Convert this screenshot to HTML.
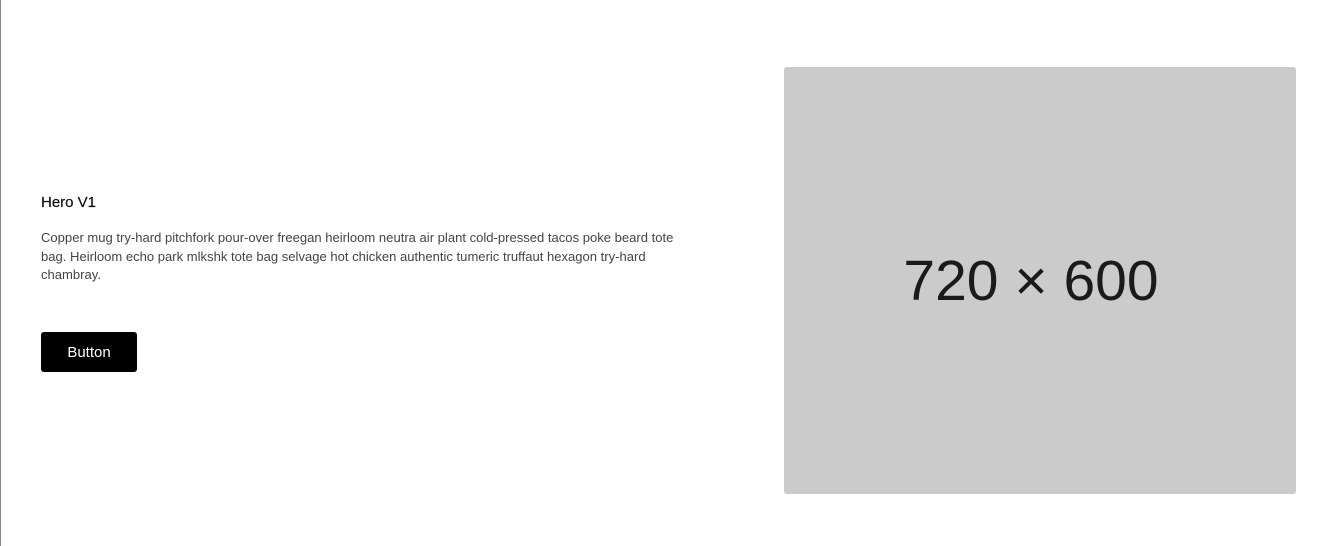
<!DOCTYPE html>
<html><head><meta charset="utf-8"><style>
html,body{margin:0;padding:0;width:1334px;height:546px;background:#fff;overflow:hidden;position:relative;font-family:"Liberation Sans",sans-serif}
.bl{position:absolute;left:0;top:0;width:1px;height:546px;background:#888}
h1{position:absolute;left:41px;top:194px;margin:0;font-size:15px;font-weight:normal;color:#111;-webkit-text-stroke:0.2px #111}
p{position:absolute;left:41px;top:229px;width:660px;margin:0;font-size:13.05px;line-height:18.5px;color:#444}
.btn{position:absolute;left:41px;top:332px;width:96px;height:40px;background:#000;color:#fff;border-radius:3px;font-size:15px;line-height:42px;text-align:center}
.img{position:absolute;left:784px;top:67px;width:512px;height:427px;background:#cbcbcb;border-radius:3px}
.img span{position:absolute;left:0;right:18px;top:214px;line-height:0;text-align:center;font-size:57px;color:#1a1a1a}
</style></head><body>
<div class="bl"></div>
<h1>Hero V1</h1>
<p>Copper mug try-hard pitchfork pour-over freegan heirloom neutra air plant cold-pressed tacos poke beard tote<br>bag. Heirloom echo park mlkshk tote bag selvage hot chicken authentic tumeric truffaut hexagon try-hard<br>chambray.</p>
<div class="btn">Button</div>
<div class="img"><span>720 × 600</span></div>
</body></html>
